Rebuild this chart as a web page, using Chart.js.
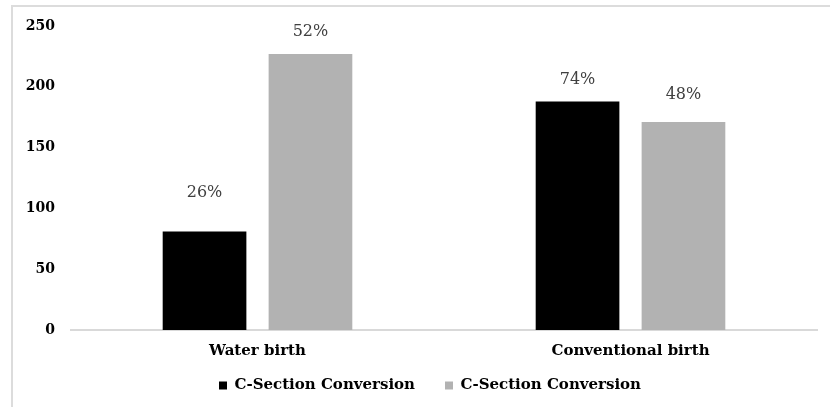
<!DOCTYPE html>
<html>
<head>
<meta charset="utf-8">
<script src="https://cdn.jsdelivr.net/npm/chart.js@4/dist/chart.umd.min.js"></script>
<style>
  html, body { margin: 0; padding: 0; background: #fff; }
  #wrap { position: relative; width: 830px; height: 407px; overflow: hidden; }
  #frame { position: absolute; left: 11px; top: 5px; width: 900px; height: 500px;
           border-left: 2px solid #dcdcdc; border-top: 2px solid #dcdcdc; pointer-events: none; }
  canvas { position: absolute; left: 0; top: 0; }
</style>
</head>
<body>
<div id="wrap">
  <canvas id="c" width="830" height="407"></canvas>
  <div id="frame"></div>
</div>
<script>
const categories = ["Water birth", "Conventional birth"];
const seriesNames = ["C-Section Conversion", "C-Section Conversion"];
const blackValues = [81, 188];
const grayValues = [227, 171];
const blackLabels = ["26%", "74%"];
const grayLabels = ["52%", "48%"];
const yTicks = [0, 50, 100, 150, 200, 250];

const labelOffsets = [[39, 22], [22, 27]];

const valueLabelPlugin = {
  id: 'valueLabels',
  afterLayout(chart) {
    // let the category labels extend below their (short) box without being clipped
    chart.scales.x.bottom += 30;
    // nudge the legend to sit centred like the original
    chart.legend.left += 16;
    chart.legend.right += 16;
  },
  afterDatasetsDraw(chart) {
    const ctx = chart.ctx;
    const allLabels = [blackLabels, grayLabels];
    ctx.save();
    ctx.font = '16px "DejaVu Serif"';
    ctx.fillStyle = '#404040';
    ctx.textAlign = 'center';
    ctx.textBaseline = 'middle';
    chart.data.datasets.forEach((ds, di) => {
      const meta = chart.getDatasetMeta(di);
      meta.data.forEach((bar, i) => {
        ctx.fillText(allLabels[di][i], bar.x, bar.y - labelOffsets[di][i]);
      });
    });
    ctx.restore();
  }
};

new Chart(document.getElementById('c'), {
  type: 'bar',
  data: {
    labels: categories,
    datasets: [
      { label: seriesNames[0], data: blackValues, backgroundColor: '#000000',
        categoryPercentage: 0.568, barPercentage: 0.79 },
      { label: seriesNames[1], data: grayValues, backgroundColor: '#b2b2b2',
        categoryPercentage: 0.568, barPercentage: 0.79 }
    ]
  },
  options: {
    responsive: false,
    animation: false,
    layout: { padding: { left: 11, right: 13, top: 26, bottom: 4 } },
    plugins: {
      tooltip: { enabled: false },
      legend: {
        position: 'bottom',
        labels: {
          boxWidth: 8, boxHeight: 8, padding: 30,
          color: '#000',
          font: { family: '"DejaVu Serif"', size: 15, weight: 'bold' }
        }
      }
    },
    scales: {
      x: {
        grid: { display: false, drawTicks: false },
        border: { display: true, color: '#d9d9d9', width: 2 },
        ticks: { color: '#000', font: { family: '"DejaVu Serif"', size: 15, weight: 'bold' }, padding: 12 },
        afterFit(s) { s.height = 18; }
      },
      y: {
        min: 0, max: 250,
        afterBuildTicks(s) { s.ticks = yTicks.map(v => ({ value: v })); },
        grid: { display: false, drawTicks: false },
        border: { display: false },
        ticks: { color: '#000', font: { family: '"DejaVu Serif"', size: 14, weight: 'bold' }, padding: 16 },
        afterFit(s) { s.width = 60; }
      }
    }
  },
  plugins: [valueLabelPlugin]
});
</script>
</body>
</html>
